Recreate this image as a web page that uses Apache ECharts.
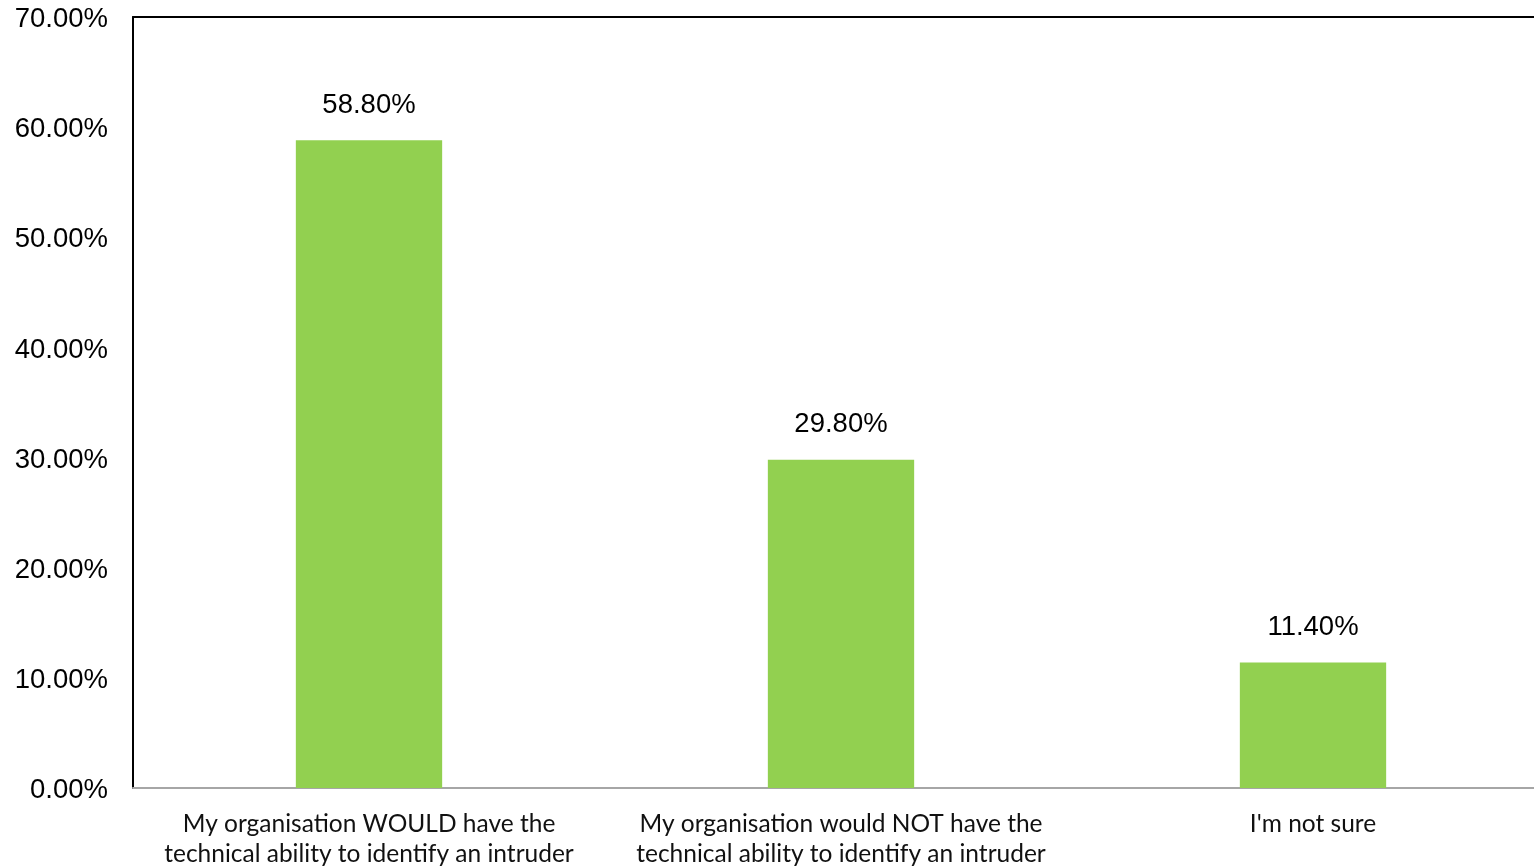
<!DOCTYPE html>
<html>
<head>
<meta charset="utf-8">
<script src="https://cdn.jsdelivr.net/npm/echarts@6/dist/echarts.min.js"></script>
<style>
  html, body { margin: 0; padding: 0; background: #fff; overflow: hidden; }
  /* the canvas is a bit wider than the window, so the plot runs off the right edge */
  #chart { width: 1549px; height: 867px; }
</style>
</head>
<body>
<div id="chart"></div>
<script>
// Survey answers and their share of respondents (%)
const categories = [
  'My organisation WOULD have the\ntechnical ability to identify an intruder',
  'My organisation would NOT have the\ntechnical ability to identify an intruder',
  "I'm not sure"
];
const shares = [58.8, 29.8, 11.4];

const chart = echarts.init(document.getElementById('chart'), null, { renderer: 'canvas' });

chart.setOption({
  animation: false,
  backgroundColor: '#ffffff',
  grid: { left: 133, top: 17, right: 0, bottom: 79, containLabel: false, outerBoundsMode: 'none' },
  xAxis: [
    {
      type: 'category',
      data: categories,
      axisLine: { show: true, lineStyle: { color: '#a6a6a6', width: 2 } },
      axisTick: { show: false },
      axisLabel: {
        interval: 0,
        margin: 21,
        fontFamily: 'Lato, "Open Sans", sans-serif',
        fontSize: 24.5,
        lineHeight: 30,
        color: '#111'
      }
    },
    {
      // plain frame line along the top of the plot
      type: 'category',
      position: 'top',
      data: categories,
      axisLine: { show: true, lineStyle: { color: '#000', width: 2 } },
      axisTick: { show: false },
      axisLabel: { show: false }
    }
  ],
  yAxis: {
    type: 'value',
    min: 0,
    max: 70,
    interval: 10,
    axisLine: { show: true, lineStyle: { color: '#000', width: 2 } },
    axisTick: { show: false },
    splitLine: { show: false },
    axisLabel: {
      margin: 25,
      color: '#000',
      formatter: v => '{t|' + v.toFixed(2) + '%}',
      rich: {
        t: {
          fontFamily: '"Liberation Sans", Arial, sans-serif',
          fontSize: 27.5,
          color: '#000',
          padding: [5, 0, 0, 0]
        }
      }
    }
  },
  series: [{
    type: 'bar',
    data: shares,
    barWidth: '31%',
    itemStyle: { color: '#92d050' },
    label: {
      show: true,
      position: 'top',
      distance: 21,
      fontFamily: '"Liberation Sans", Arial, sans-serif',
      fontSize: 27.5,
      color: '#000',
      formatter: p => p.value.toFixed(2) + '%'
    }
  }]
});
</script>
</body>
</html>
